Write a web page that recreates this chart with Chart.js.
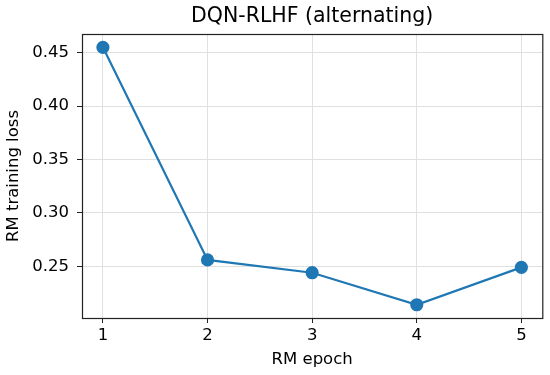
<!DOCTYPE html>
<html>
<head>
<meta charset="utf-8">
<script src="https://cdn.jsdelivr.net/npm/chart.js@4"></script>
<style>
  html, body { margin: 0; padding: 0; background: #fff; }
  #wrap { width: 550px; height: 375px; }
</style>
</head>
<body>
<div id="wrap"><canvas id="chart" width="550" height="375"></canvas></div>
<script>
const epochs = [1, 2, 3, 4, 5];
const rmLoss = [0.455, 0.256, 0.244, 0.214, 0.249];
const yTicks = [0.25, 0.30, 0.35, 0.40, 0.45];
const xTicks = [1, 2, 3, 4, 5];
const chartTitle = 'DQN-RLHF (alternating)';

const FONT = "'DejaVu Sans', sans-serif";

// frame on all four sides, like matplotlib spines, plus a title centred over the plot area
const frame = {
  id: 'frame',
  afterDraw(chart) {
    const {ctx, chartArea: a} = chart;
    ctx.save();
    ctx.strokeStyle = '#222';
    ctx.lineWidth = 1.2;
    ctx.strokeRect(a.left + 0.5, a.top + 0.5, a.right - a.left, a.bottom - a.top);
    ctx.fillStyle = '#000';
    ctx.font = "20.5px " + FONT;
    ctx.textAlign = 'center';
    ctx.textBaseline = 'middle';
    ctx.fillText(chartTitle, (a.left + a.right) / 2, 17);
    ctx.restore();
  }
};

new Chart(document.getElementById('chart'), {
  type: 'line',
  data: {
    datasets: [{
      label: 'RM loss',
      data: epochs.map((e, i) => ({x: e, y: rmLoss[i]})),
      borderColor: '#1f77b4',
      backgroundColor: '#1f77b4',
      borderWidth: 2.2,
      pointRadius: 5.5,
      pointHoverRadius: 5.5,
      tension: 0
    }]
  },
  options: {
    responsive: false,
    animation: false,
    layout: { padding: { left: 0, right: 6, top: 34, bottom: 0 } },
    plugins: {
      legend: { display: false },
      tooltip: { enabled: false },
      title: { display: false }
    },
    scales: {
      x: {
        type: 'linear',
        min: 0.8,
        max: 5.2,
        afterBuildTicks: s => { s.ticks = xTicks.map(v => ({value: v})); },
        afterFit: s => { s.height = 57; },
        ticks: { color: '#000', font: { family: FONT, size: 16.5 }, padding: 3, maxRotation: 0 },
        grid: { color: '#e0e0e0', tickColor: '#222', tickLength: 5 },
        border: { display: false },
        title: {
          display: true, text: 'RM epoch', color: '#000',
          font: { family: FONT, size: 16.5 }, padding: { top: 1, bottom: 5 }
        }
      },
      y: {
        min: 0.2016,
        max: 0.4675,
        afterBuildTicks: s => { s.ticks = yTicks.map(v => ({value: v})); },
        afterFit: s => { s.width = 82; },
        ticks: {
          color: '#000', font: { family: FONT, size: 16.5 }, padding: 8,
          callback: v => v.toFixed(2)
        },
        grid: { color: '#e0e0e0', tickColor: '#222', tickLength: 5 },
        border: { display: false },
        title: {
          display: true, text: 'RM training loss', color: '#000',
          font: { family: FONT, size: 16.5 }, padding: { top: 4, bottom: 4 }
        }
      }
    }
  },
  plugins: [frame]
});
</script>
</body>
</html>
